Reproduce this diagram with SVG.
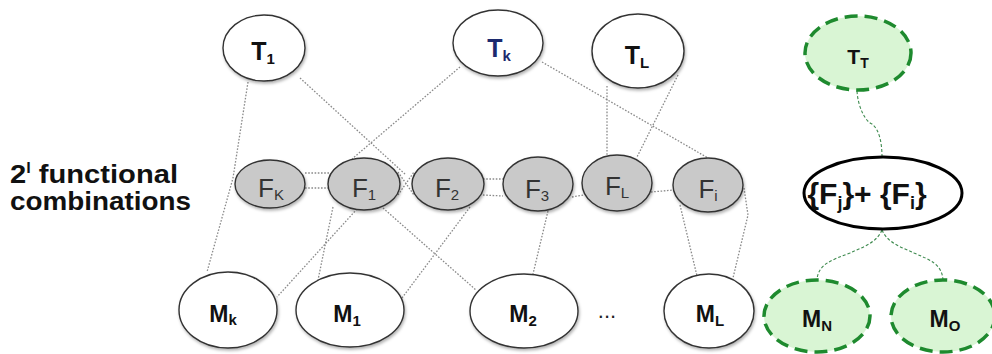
<svg xmlns="http://www.w3.org/2000/svg" width="992" height="354" viewBox="0 0 992 354">
<defs>
<filter id="sh" x="-20%" y="-20%" width="140%" height="150%">
<feDropShadow dx="1" dy="2" stdDeviation="1.5" flood-color="#000" flood-opacity="0.3"/>
</filter>
</defs>
<style>
.wn{fill:#fff;stroke:#333;stroke-width:1.4;filter:url(#sh)}
.fn{fill:#c9c9c9;stroke:#333;stroke-width:1.4;filter:url(#sh)}
.gn{fill:#d9f5d4;stroke:#1e8a2e;stroke-width:3.5;stroke-dasharray:13 7}
.big{fill:#fff;stroke:#000;stroke-width:3}
.tl{font-family:"Liberation Sans Narrow","Liberation Sans",Arial,sans-serif;font-weight:bold;font-size:25px;fill:#111;text-anchor:middle}
.fl{font-family:"Liberation Sans Narrow","Liberation Sans",Arial,sans-serif;font-size:26px;fill:#333;text-anchor:middle}
.ml{font-family:"Liberation Sans",Arial,sans-serif;font-weight:bold;font-size:23px;fill:#111;text-anchor:middle}
.sub{font-size:15px}
.cn{fill:none;stroke:#8a8a8a;stroke-width:1.3;stroke-dasharray:1.6 1.6}
.gc{fill:none;stroke:#3d8a4e;stroke-width:1.1;stroke-dasharray:3 2}
.lbl{font-family:"Liberation Sans",Arial,sans-serif;font-weight:bold;font-size:25px;fill:#111}
</style>
<rect width="992" height="354" fill="#fff"/>
<g id="connectors">
<path class="cn" d="M248,82 L233,178 L207,272"/>
<path class="cn" d="M300,78 L406,175"/>
<path class="cn" d="M460,67 L352,159"/>
<path class="cn" d="M542,62 L708,158"/>
<path class="cn" d="M607,86 L607,156"/>
<path class="cn" d="M678,75 L637,157"/>
<path class="cn" d="M305,173 L330,173"/>
<path class="cn" d="M305,188 L329,188"/>
<path class="cn" d="M398,172 L414,195"/>
<path class="cn" d="M398,195 L414,172"/>
<path class="cn" d="M483,179 L503,179"/>
<path class="cn" d="M483,195 L503,196"/>
<path class="cn" d="M572,197 L584,195"/>
<path class="cn" d="M651,192 L674,190"/>
<path class="cn" d="M357,209 L277,297"/>
<path class="cn" d="M333,207 L318,280"/>
<path class="cn" d="M383,208 L476,290"/>
<path class="cn" d="M470,207 L402,298"/>
<path class="cn" d="M548,211 L533,274"/>
<path class="cn" d="M680,205 L697,276"/>
<path class="cn" d="M744,188 L748,215 L733,278"/>
<path class="gc" d="M857,91 C858,108 866,122 872,124 C880,130 882,145 882,157"/>
<path class="gc" d="M882,230 C876,244 860,248 850,253 C832,260 818,264 817,280"/>
<path class="gc" d="M882,230 C888,244 904,248 914,253 C930,260 942,264 943,280"/>
</g>
<g id="label-combinations">
<text class="lbl" x="10" y="183" textLength="168" lengthAdjust="spacingAndGlyphs">2<tspan font-size="14" dy="-10">l</tspan><tspan dy="10"> functional</tspan></text>
<text class="lbl" x="10" y="210" textLength="181" lengthAdjust="spacingAndGlyphs">combinations</text>
</g>
<g id="T1"><ellipse class="wn" cx="264" cy="48" rx="41" ry="33"/><text class="tl" x="263" y="60">T<tspan class="sub" dy="4">1</tspan></text></g>
<g id="Tk"><ellipse class="wn" cx="498" cy="43" rx="45" ry="33"/><text class="tl" x="499" y="57" style="fill:#1c2a6e">T<tspan class="sub" dy="4">k</tspan></text></g>
<g id="TL"><ellipse class="wn" cx="638" cy="51" rx="46" ry="37"/><text class="tl" x="637" y="64">T<tspan class="sub" dy="4">L</tspan></text></g>
<g id="TT"><ellipse class="gn" cx="858" cy="53" rx="53" ry="37"/><text class="tl" x="858" y="64" style="font-size:21px">T<tspan class="sub" dy="4" style="font-size:14px">T</tspan></text></g>
<g id="FK"><ellipse class="fn" cx="270" cy="184" rx="35" ry="24"/><text class="fl" x="271" y="197">F<tspan class="sub" dy="3">K</tspan></text></g>
<g id="F1"><ellipse class="fn" cx="364" cy="184" rx="36" ry="26"/><text class="fl" x="364" y="197">F<tspan class="sub" dy="3">1</tspan></text></g>
<g id="F2"><ellipse class="fn" cx="448" cy="184" rx="36" ry="26"/><text class="fl" x="447" y="197">F<tspan class="sub" dy="3">2</tspan></text></g>
<g id="F3"><ellipse class="fn" cx="538" cy="184" rx="35" ry="27"/><text class="fl" x="537" y="198">F<tspan class="sub" dy="3">3</tspan></text></g>
<g id="FL"><ellipse class="fn" cx="617" cy="183" rx="35" ry="28"/><text class="fl" x="617" y="195">F<tspan class="sub" dy="3">L</tspan></text></g>
<g id="Fi"><ellipse class="fn" cx="708" cy="185" rx="35" ry="27"/><text class="fl" x="708" y="198">F<tspan class="sub" dy="3">i</tspan></text></g>
<g id="Fset"><ellipse class="big" cx="883" cy="193" rx="79" ry="36"/><text class="tl" x="867" y="204" style="font-size:30px">{F<tspan dy="5" style="font-size:18px">j</tspan><tspan dy="-5">}+ {F</tspan><tspan dy="5" style="font-size:18px">i</tspan><tspan dy="-5">}</tspan></text></g>
<g id="Mk"><ellipse class="wn" cx="228" cy="310" rx="49" ry="38"/><text class="ml" x="223" y="322">M<tspan class="sub" dy="3">k</tspan></text></g>
<g id="M1"><ellipse class="wn" cx="350" cy="310" rx="54" ry="37"/><text class="ml" x="347" y="322">M<tspan class="sub" dy="4">1</tspan></text></g>
<g id="M2"><ellipse class="wn" cx="524" cy="311" rx="54" ry="37"/><text class="ml" x="523" y="322">M<tspan class="sub" dy="4">2</tspan></text></g>
<g id="ellipsis"><text class="fl" x="607" y="318" style="fill:#222;font-family:'Liberation Sans',sans-serif;font-size:22px">...</text></g>
<g id="ML"><ellipse class="wn" cx="709" cy="311" rx="45" ry="37"/><text class="ml" x="710" y="322">M<tspan class="sub" dy="4">L</tspan></text></g>
<g id="MN"><ellipse class="gn" cx="817" cy="316" rx="53" ry="36"/><text class="ml" x="817" y="327">M<tspan class="sub" dy="4">N</tspan></text></g>
<g id="MO"><ellipse class="gn" cx="943" cy="316" rx="52" ry="36"/><text class="ml" x="945" y="327">M<tspan class="sub" dy="4">O</tspan></text></g>
</svg>
